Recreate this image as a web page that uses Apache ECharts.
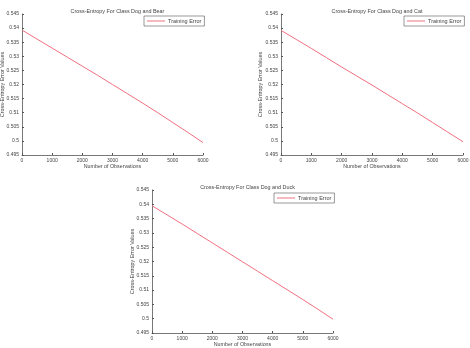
<!DOCTYPE html>
<html>
<head>
<meta charset="utf-8">
<script src="https://cdn.jsdelivr.net/npm/echarts@6/dist/echarts.min.js"></script>
<style>
  html, body { margin: 0; padding: 0; background: #fff; }
  #dataChart { width: 470px; height: 348px; }
</style>
</head>
<body>
<div id="dataChart"></div>
<script>
// observations (x), one point every 500
const observations = [0, 500, 1000, 1500, 2000, 2500, 3000, 3500, 4000, 4500, 5000, 5500, 6000]
const dogBear = [0.5393, 0.5361, 0.5329, 0.5297, 0.5265, 0.5233, 0.5200, 0.5167, 0.5134, 0.5100, 0.5065, 0.5030, 0.4994]
const dogCat = [0.5392, 0.5360, 0.5328, 0.5295, 0.5262, 0.5230, 0.5198, 0.5165, 0.5132, 0.5099, 0.5065, 0.5031, 0.4997]
const dogDuck = [0.5395, 0.5363, 0.5331, 0.5298, 0.5265, 0.5232, 0.5199, 0.5166, 0.5133, 0.5100, 0.5067, 0.5033, 0.4998]
const titles = ['Cross-Entropy For Class Dog and Bear', 'Cross-Entropy For Class Dog and Cat', 'Cross-Entropy For Class Dog and Duck']
const xTicks = [0, 1000, 2000, 3000, 4000, 5000, 6000]
const yTicks = [0.495, 0.5, 0.505, 0.51, 0.515, 0.52, 0.525, 0.53, 0.535, 0.54, 0.545]

const font = 'Liberation Sans, Arial, sans-serif'
const textColor = '#444'
const axisColor = '#555'
const lineColor = '#f07080'

const grids = [
  { left: 22, top: 14, width: 181, height: 141, outerBoundsMode: 'none' },
  { left: 281, top: 14, width: 182, height: 141, outerBoundsMode: 'none' },
  { left: 152, top: 190, width: 181, height: 143, outerBoundsMode: 'none' }
]
const legendPos = [
  { left: 144, top: 16 },
  { left: 404, top: 16 },
  { left: 274, top: 193 }
]
const yNameGaps = [17, 18, 17]
const seriesData = [dogBear, dogCat, dogDuck]

function pairs (ys) {
  return observations.map((x, i) => [x, ys[i]])
}

const option = {
  backgroundColor: '#fff',
  animation: false,
  title: grids.map((g, i) => ({
    text: titles[i],
    left: g.left + g.width / 2,
    top: g.top - 10,
    textAlign: 'center',
    textStyle: { fontFamily: font, fontSize: 5.4, fontWeight: 'normal', color: textColor }
  })),
  legend: legendPos.map(p => ({
    left: p.left,
    top: p.top,
    data: ['Training Error'],
    icon: 'rect',
    itemWidth: 18,
    itemHeight: 1,
    itemGap: 2,
    padding: [2, 3, 2, 3],
    borderColor: axisColor,
    borderWidth: 0.6,
    borderRadius: 0,
    backgroundColor: '#fff',
    textStyle: { fontFamily: font, fontSize: 5.5, color: textColor, padding: [0, 0, 0, -2] }
  })),
  grid: grids,
  xAxis: grids.map((g, i) => ({
    type: 'value',
    gridIndex: i,
    min: 0,
    max: 6000,
    interval: 1000,
    name: 'Number of Observations',
    nameLocation: 'middle',
    nameGap: 9,
    nameMoveOverlap: false,
    nameTextStyle: { fontFamily: font, fontSize: 5.3, color: textColor },
    axisLine: { lineStyle: { color: axisColor, width: 0.8 } },
    axisTick: { inside: true, length: 2, lineStyle: { color: axisColor } },
    axisLabel: {
      fontFamily: font, fontSize: 5, color: textColor, margin: 3,
      formatter: v => xTicks.includes(v) ? String(v) : ''
    },
    splitLine: { show: false }
  })),
  yAxis: grids.map((g, i) => ({
    type: 'value',
    gridIndex: i,
    min: 0.495,
    max: 0.545,
    interval: 0.005,
    name: 'Cross-Entropy Error Values',
    nameLocation: 'middle',
    nameGap: yNameGaps[i],
    nameMoveOverlap: false,
    nameTextStyle: { fontFamily: font, fontSize: 5.4, color: textColor },
    axisLine: { show: true, lineStyle: { color: axisColor, width: 0.8 } },
    axisTick: { show: true, inside: true, length: 2, lineStyle: { color: axisColor } },
    axisLabel: {
      fontFamily: font, fontSize: 5, color: textColor, margin: 3,
      formatter: v => {
        const t = yTicks.find(y => Math.abs(y - v) < 1e-6)
        return t === undefined ? '' : String(t)
      }
    },
    splitLine: { show: false }
  })),
  series: seriesData.map((d, i) => ({
    name: 'Training Error',
    type: 'line',
    xAxisIndex: i,
    yAxisIndex: i,
    showSymbol: false,
    symbol: 'none',
    lineStyle: { color: lineColor, width: 1 },
    itemStyle: { color: lineColor },
    data: pairs(d)
  }))
}

const myChart = echarts.init(document.getElementById('dataChart'))
myChart.setOption(option)
</script>
</body>
</html>
